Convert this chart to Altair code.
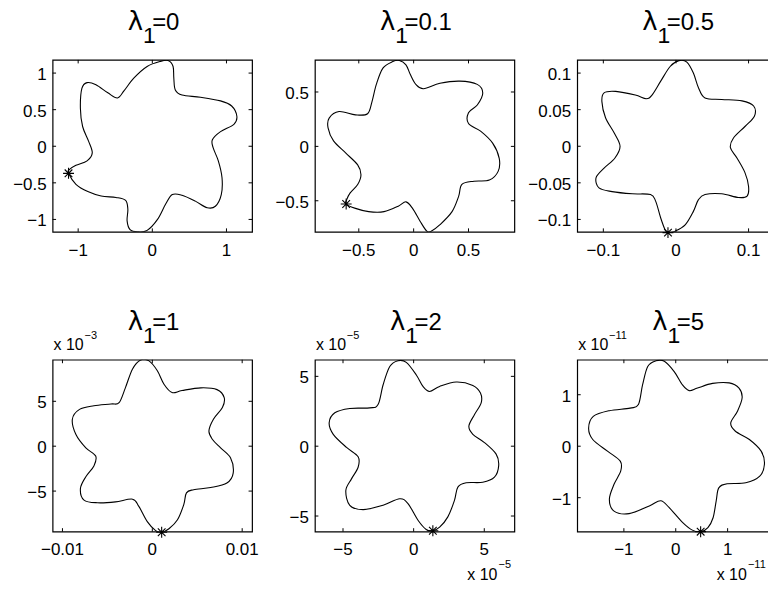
import altair as alt
import pandas as pd

# ---------------- data ----------------
# panel 1: lambda1 = 0
p1_x = [-1.13, -1.03, -0.87, -0.69, -0.49, -0.36, -0.33, -0.34, -0.30, -0.20, -0.07, 0.07, 0.18, 0.27,
        0.40, 0.58, 0.74, 0.85, 0.93, 0.94, 0.89, 0.82, 0.81, 0.92, 1.10, 1.14, 1.07, 0.92, 0.65, 0.40,
        0.31, 0.29, 0.28, 0.22, 0.11, -0.07, -0.25, -0.38, -0.47, -0.60, -0.76, -0.88, -0.95, -0.97,
        -0.94, -0.86, -0.81, -0.88, -1.03, -1.12]
p1_y = [-0.37, -0.52, -0.62, -0.68, -0.70, -0.74, -0.86, -1.02, -1.14, -1.17, -1.15, -1.00, -0.79, -0.66,
        -0.67, -0.75, -0.84, -0.82, -0.66, -0.43, -0.20, -0.02, 0.09, 0.20, 0.30, 0.41, 0.55, 0.62, 0.67, 0.70,
        0.77, 0.93, 1.09, 1.17, 1.16, 1.09, 0.93, 0.76, 0.66, 0.73, 0.84, 0.87, 0.79, 0.52,
        0.27, 0.07, -0.09, -0.20, -0.26, -0.32]

# panel 2: lambda1 = 0.1
p2_x = [-0.615, -0.53, -0.41, -0.27, -0.14, -0.07, -0.01, 0.06, 0.12, 0.16, 0.24, 0.35, 0.41, 0.44, 0.55,
        0.69, 0.77, 0.78, 0.72, 0.61, 0.50, 0.50, 0.58, 0.63, 0.58, 0.42, 0.24, 0.09, 0.02, -0.03, -0.07,
        -0.13, -0.19, -0.28, -0.34, -0.38, -0.42, -0.53, -0.68, -0.77, -0.78, -0.73, -0.62, -0.51, -0.48,
        -0.51, -0.58, -0.61]
p2_y = [-0.53, -0.57, -0.60, -0.60, -0.55, -0.51, -0.57, -0.69, -0.78, -0.78, -0.72, -0.60, -0.46, -0.35, -0.32,
        -0.31, -0.23, -0.11, 0.03, 0.14, 0.21, 0.31, 0.38, 0.49, 0.57, 0.60, 0.58, 0.53, 0.57, 0.66, 0.75,
        0.79, 0.78, 0.72, 0.57, 0.41, 0.30, 0.29, 0.32, 0.26, 0.17, 0.05, -0.06, -0.17, -0.26,
        -0.35, -0.43, -0.49]

# panel 3: lambda1 = 0.5
p3_x = [-0.011, -0.001, 0.013, 0.024, 0.031, 0.040, 0.063, 0.086, 0.098, 0.100, 0.095, 0.084, 0.075, 0.079,
        0.095, 0.108, 0.107, 0.091, 0.063, 0.040, 0.031, 0.024, 0.015, 0.004, -0.008, -0.021, -0.033,
        -0.041, -0.056, -0.083, -0.099, -0.102, -0.097, -0.085, -0.077, -0.084, -0.099, -0.110, -0.106,
        -0.088, -0.060, -0.035, -0.028, -0.021, -0.015]
p3_y = [-0.118, -0.116, -0.107, -0.089, -0.073, -0.066, -0.065, -0.070, -0.068, -0.055, -0.036, -0.016, -0.002, 0.011,
        0.027, 0.041, 0.055, 0.062, 0.064, 0.066, 0.080, 0.100, 0.115, 0.117, 0.109, 0.089, 0.070,
        0.065, 0.070, 0.075, 0.073, 0.061, 0.039, 0.018, 0.000, -0.016, -0.030, -0.043, -0.057,
        -0.062, -0.065, -0.066, -0.075, -0.098, -0.114]

# panel 4: lambda1 = 1   (y in units of 1e-3)
p4_x = [0.00104, 0.00185, 0.0028, 0.0035, 0.0038, 0.0046, 0.0065, 0.0083, 0.0090, 0.0087, 0.0076, 0.0067,
        0.0063, 0.0068, 0.0078, 0.0080, 0.0072, 0.0054, 0.0033, 0.0022, 0.0013, 0.00056, -0.00037, -0.0013,
        -0.0022, -0.0030, -0.0037, -0.0046, -0.0065, -0.0081, -0.0089, -0.0085, -0.0074, -0.0063, -0.0065,
        -0.0074, -0.0080, -0.0076, -0.0061, -0.0041, -0.0022, -0.0015, -0.00056, 0.00037]
p4_y = [-9.59, -9.2, -8.2, -6.5, -5.2, -4.85, -4.6, -4.1, -3.0, -1.3, -0.19, 0.75,
        1.68, 3.0, 4.3, 5.4, 6.3, 6.5, 6.2, 5.97, 6.9, 8.4, 9.5, 9.6,
        8.6, 6.5, 4.85, 4.7, 4.5, 4.1, 3.0, 1.3, -0.19, -1.1, -2.2,
        -3.4, -4.7, -6.0, -6.3, -6.2, -5.9, -6.7, -8.4, -9.4]

# panel 5: lambda1 = 2   (x, y in units of 1e-5)
p5_x = [1.36, 1.84, 2.42, 2.89, 3.13, 3.72, 4.89, 5.72, 6.02, 5.84, 5.01, 4.19, 3.91, 4.31, 4.78, 4.73,
        4.19, 3.01, 1.84, 1.13, 0.66, 0.19, -0.52, -1.11, -1.69, -2.16, -2.52, -3.11, -4.52, -5.58, -5.98,
        -5.69, -4.75, -3.93, -3.93, -4.40, -4.80, -4.52, -3.58, -2.16, -0.99, -0.40, 0.31, 0.89]
p5_y = [-6.05, -5.80, -5.06, -3.88, -2.93, -2.62, -2.58, -2.22, -1.39, -0.57, 0.26, 0.85, 1.44, 2.27, 3.10, 3.81,
        4.35, 4.59, 4.28, 3.92, 4.28, 5.10, 6.00, 6.12, 5.70, 4.40, 2.98, 2.74, 2.70, 2.39, 1.68,
        0.85, -0.09, -0.76, -1.51, -2.34, -3.17, -4.23, -4.54, -4.23, -3.76, -4.11, -5.30, -5.96]

# panel 6: lambda1 = 5   (x, y in units of 1e-11)
p6_x = [0.48, 0.62, 0.72, 0.78, 0.83, 0.99, 1.35, 1.62, 1.71, 1.65, 1.42, 1.15, 1.06, 1.19, 1.28, 1.22,
        1.03, 0.71, 0.42, 0.26, 0.13, -0.03, -0.22, -0.38, -0.54, -0.64, -0.72, -0.88, -1.28, -1.59, -1.68,
        -1.60, -1.31, -1.07, -1.06, -1.19, -1.28, -1.19, -0.90, -0.51, -0.29, -0.13, 0.13, 0.32]
p6_y = [-1.66, -1.58, -1.39, -1.06, -0.81, -0.73, -0.71, -0.58, -0.35, -0.10, 0.13, 0.29, 0.45, 0.68, 0.94, 1.13,
        1.23, 1.22, 1.13, 1.08, 1.19, 1.45, 1.65, 1.66, 1.55, 1.19, 0.81, 0.74, 0.69, 0.58, 0.35,
        0.13, -0.10, -0.29, -0.48, -0.74, -1.03, -1.26, -1.31, -1.16, -1.06, -1.19, -1.48, -1.63]

# starting points (asterisks)
star_x = [-1.13, -0.615, -0.011, 0.00104, 1.36, 0.48]
star_y = [-0.37, -0.53, -0.118, -9.59, -6.05, -1.66]

# titles (lambda_1 values)
lambda_vals = ["0", "0.1", "0.5", "1", "2", "5"]

# axis ticks
x_ticks = [[-1, 0, 1], [-0.5, 0, 0.5], [-0.1, 0, 0.1], [-0.01, 0, 0.01], [-5, 0, 5], [-1, 0, 1]]
y_ticks = [[-1, -0.5, 0, 0.5, 1], [-0.5, 0, 0.5], [-0.1, -0.05, 0, 0.05, 0.1], [-5, 0, 5], [-5, 0, 5], [-1, 0, 1]]

# axis limits
x_lims = [[-1.345, 1.345], [-0.90, 0.918], [-0.136, 0.1387], [-0.0111, 0.0111], [-6.99, 7.13], [-1.90, 1.946]]
y_lims = [[-1.17, 1.18], [-0.786, 0.795], [-0.117, 0.118], [-9.52, 9.63], [-6.12, 6.19], [-1.66, 1.68]]

# exponent annotations ("x 10^k")
top_exp = [None, None, None, "\u22123", "\u22125", "\u221211"]
bottom_exp = [None, None, None, None, "\u22125", "\u221211"]

curves = [(p1_x, p1_y), (p2_x, p2_y), (p3_x, p3_y), (p4_x, p4_y), (p5_x, p5_y), (p6_x, p6_y)]

# ---------------- styling ----------------
FONT = "Liberation Sans"
H = 172.4
W = 200
TICK = 3.5
ASTERISK = "M-1,0L1,0M0,-1L0,1M-0.7,-0.7L0.7,0.7M-0.7,0.7L0.7,-0.7"
CHAR_W = {"=": 0.584, ".": 0.278}
TFS = 24
# invisible layout anchors (fix the overall bounds so the page is cropped like the reference)
A_TL = (-60, -70)
A_BR = (W + 40, H + 90)
SVG_W, SVG_H = 760, 571


def fmt(v):
    return f"{v:g}".replace("-", "\u2212")


def txt(text, x, y, size, align="left", font=FONT):
    return alt.Chart(pd.DataFrame({"t": [text]})).mark_text(
        font=font, fontSize=size, color="black", align=align, baseline="alphabetic"
    ).encode(x=alt.value(x), y=alt.value(y), text="t:N")


def anchor(x, y):
    return alt.Chart(pd.DataFrame({"a": [0]})).mark_rect(color="white").encode(
        x=alt.value(x), x2=alt.value(x + 1), y=alt.value(y), y2=alt.value(y + 1))


def panel(k):
    xs, ys = curves[k]
    df = pd.DataFrame({"x": xs, "y": ys, "i": list(range(len(xs)))})
    xsc = alt.Scale(domain=x_lims[k], nice=False, zero=False)
    ysc = alt.Scale(domain=y_lims[k], nice=False, zero=False)

    line = alt.Chart(df).mark_line(
        color="black", strokeWidth=1.1, interpolate="cardinal-closed", clip=True
    ).encode(x=alt.X("x:Q", scale=xsc, axis=None), y=alt.Y("y:Q", scale=ysc, axis=None), order="i:Q")

    star = alt.Chart(pd.DataFrame({"x": [star_x[k]], "y": [star_y[k]]})).mark_point(
        shape=ASTERISK, size=120, filled=False, color="black", strokeWidth=1.1, opacity=1
    ).encode(x=alt.X("x:Q", scale=xsc, axis=None), y=alt.Y("y:Q", scale=ysc, axis=None))

    xt = pd.DataFrame({"v": x_ticks[k], "lab": [fmt(v) for v in x_ticks[k]]})
    yt = pd.DataFrame({"v": y_ticks[k], "lab": [fmt(v) for v in y_ticks[k]]})
    rule = dict(color="black", strokeWidth=1)
    tb = alt.Chart(xt).mark_rule(**rule).encode(
        x=alt.X("v:Q", scale=xsc, axis=None), y=alt.value(H), y2=alt.value(H - TICK))
    tt = alt.Chart(xt).mark_rule(**rule).encode(
        x=alt.X("v:Q", scale=xsc, axis=None), y=alt.value(0), y2=alt.value(TICK))
    tl = alt.Chart(yt).mark_rule(**rule).encode(
        y=alt.Y("v:Q", scale=ysc, axis=None), x=alt.value(0), x2=alt.value(TICK))
    tr = alt.Chart(yt).mark_rule(**rule).encode(
        y=alt.Y("v:Q", scale=ysc, axis=None), x=alt.value(W), x2=alt.value(W - TICK))

    # tick labels
    xl = alt.Chart(xt).mark_text(font=FONT, fontSize=17, color="black", align="center",
                                 baseline="alphabetic").encode(
        x=alt.X("v:Q", scale=xsc, axis=None), y=alt.value(H + 23.7), text="lab:N")
    yl = alt.Chart(yt).mark_text(font=FONT, fontSize=17, color="black", align="right",
                                 baseline="alphabetic", dy=7).encode(
        y=alt.Y("v:Q", scale=ysc, axis=None), x=alt.value(-6), text="lab:N")

    layers = [line, star, tb, tt, tl, tr, xl, yl]

    # title  lambda_1 = value
    val = "=" + lambda_vals[k]
    adv = sum(CHAR_W.get(c, 0.556) for c in val) * TFS
    total = 27.6 + adv - 2
    S = W / 2 - total / 2
    layers.append(txt("\u03bb", S + 9.5, -29.6, 26, align="center", font="DejaVu Sans"))
    layers.append(txt("1", S + 23.5, -16.6, 23, align="center"))
    layers.append(txt(val, S + 26.3, -29.6, TFS, align="left"))

    if top_exp[k]:
        layers.append(txt("x 10", 1, -10, 16))
        layers.append(txt(top_exp[k], 32, -21, 11))
    if bottom_exp[k]:
        end = 183 if k == 4 else 170
        layers.append(txt("x 10", end, H + 48, 16, align="right"))
        layers.append(txt(bottom_exp[k], end + 1.2, H + 36.5, 11))

    if k == 0:
        layers.insert(0, anchor(*A_TL))
    if k == 5:
        layers.insert(0, anchor(*A_BR))

    return alt.layer(*layers).properties(width=W, height=H)


# page placement: plot 1 top-left at (51.7, 58.3); svg starts at (8, 8)
pad_left = 43.7 + A_TL[0]
pad_top = 50.3 + A_TL[1]
content_w = (2 * (W + 63) + A_BR[0] + 1) - A_TL[0]
content_h = ((H + 127.6) + A_BR[1] + 1) - A_TL[1]
pad_right = SVG_W - pad_left - content_w
pad_bottom = SVG_H - pad_top - content_h

chart = alt.concat(
    *[panel(k) for k in range(6)], columns=3,
    spacing={"row": 127.6, "column": 63}, bounds="flush"
).properties(
    padding={"left": pad_left, "top": pad_top, "right": pad_right, "bottom": pad_bottom},
    background="white"
).configure_view(stroke="black", strokeWidth=1.2)

chart.save("out.html", embed_options={"renderer": "svg", "actions": False})
